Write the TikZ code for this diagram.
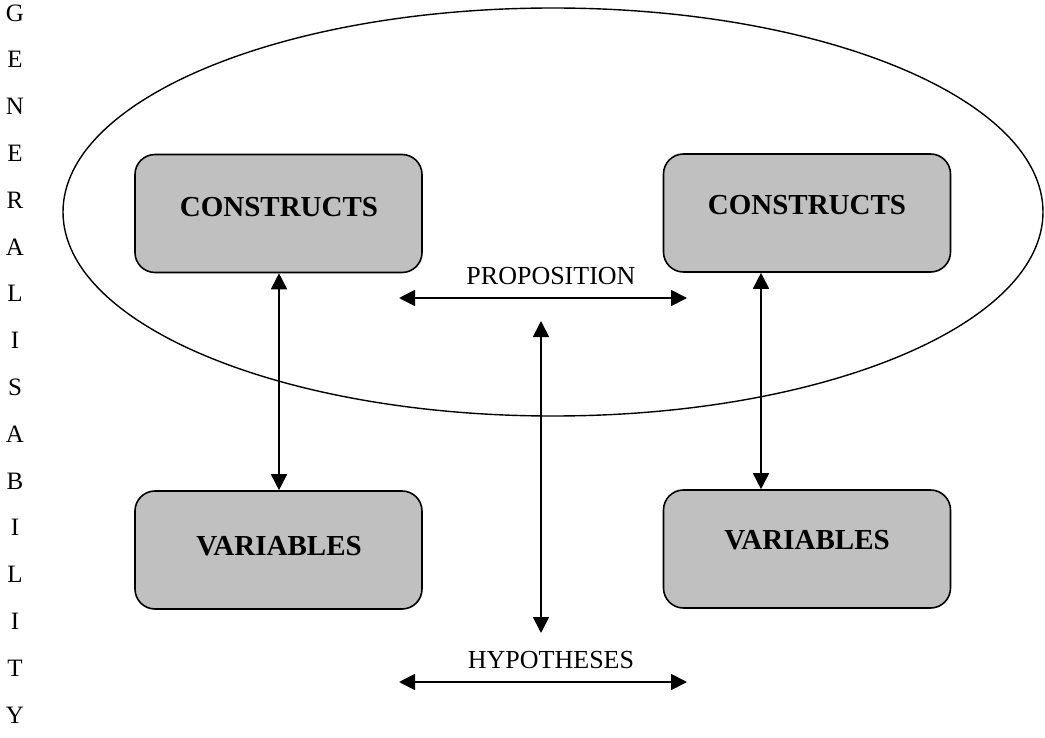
\documentclass[tikz,border=0pt]{standalone}
\usepackage{fontspec}
\setmainfont{Liberation Serif}
\usetikzlibrary{arrows.meta}
\begin{document}
\begin{tikzpicture}[x=1pt,y=-1pt,
  conceptbox/.style={draw=black,line width=1.6pt,fill=boxgray,rounded corners=20pt,
    minimum width=287pt,minimum height=118pt,inner sep=0pt},
  boxlabel/.style={font=\fontsize{29}{32}\selectfont\bfseries},
  linklabel/.style={font=\fontsize{26}{28}\selectfont},
  sideletter/.style={font=\fontsize{25}{28}\selectfont,inner sep=0pt},
  link/.style={line width=1.8pt,{Triangle[length=16pt,width=16pt]}-{Triangle[length=16pt,width=16pt]}}]
\definecolor{boxgray}{RGB}{192,192,192}
\useasboundingbox (0,0) rectangle (1045,738);

% outer ellipse around the construct level
\draw[line width=1.4pt] (553,212) ellipse [x radius=490, y radius=204];

% boxes
\node[conceptbox] (c1) at (278.5,213.5) {};
\node[conceptbox] (c2) at (807,213) {};
\node[conceptbox] (v1) at (278.5,550) {};
\node[conceptbox] (v2) at (807,549) {};

\node[boxlabel] at (279,207) {CONSTRUCTS};
\node[boxlabel] at (807,205) {CONSTRUCTS};
\node[boxlabel] at (279,546) {VARIABLES};
\node[boxlabel] at (807,540) {VARIABLES};

% link labels
\node[linklabel] (prop) at (551,276) {PROPOSITION};
\node[linklabel] (hyp) at (551,660) {HYPOTHESES};

% link end points
\coordinate (pl) at (399,298);
\coordinate (pr) at (687,298);
\coordinate (hl) at (399,682);
\coordinate (hr) at (687,682);
\coordinate (mt) at (541,321);
\coordinate (mb) at (541,633);

\draw[link] (pl) -- (pr);
\draw[link] (hl) -- (hr);
\draw[link] (mt) -- (mb);
\draw[link] (c1.south -| 279,0) -- (v1.north -| 279,0);
\draw[link] (c2.south -| 761,0) -- (v2.north -| 761,0);

% vertical side label
\foreach \ch [count=\i from 0] in {G,E,N,E,R,A,L,I,S,A,B,I,L,I,T,Y}
  \node[sideletter] (s\i) at (15,{13+46.8*\i}) {\ch};
\end{tikzpicture}
\end{document}
